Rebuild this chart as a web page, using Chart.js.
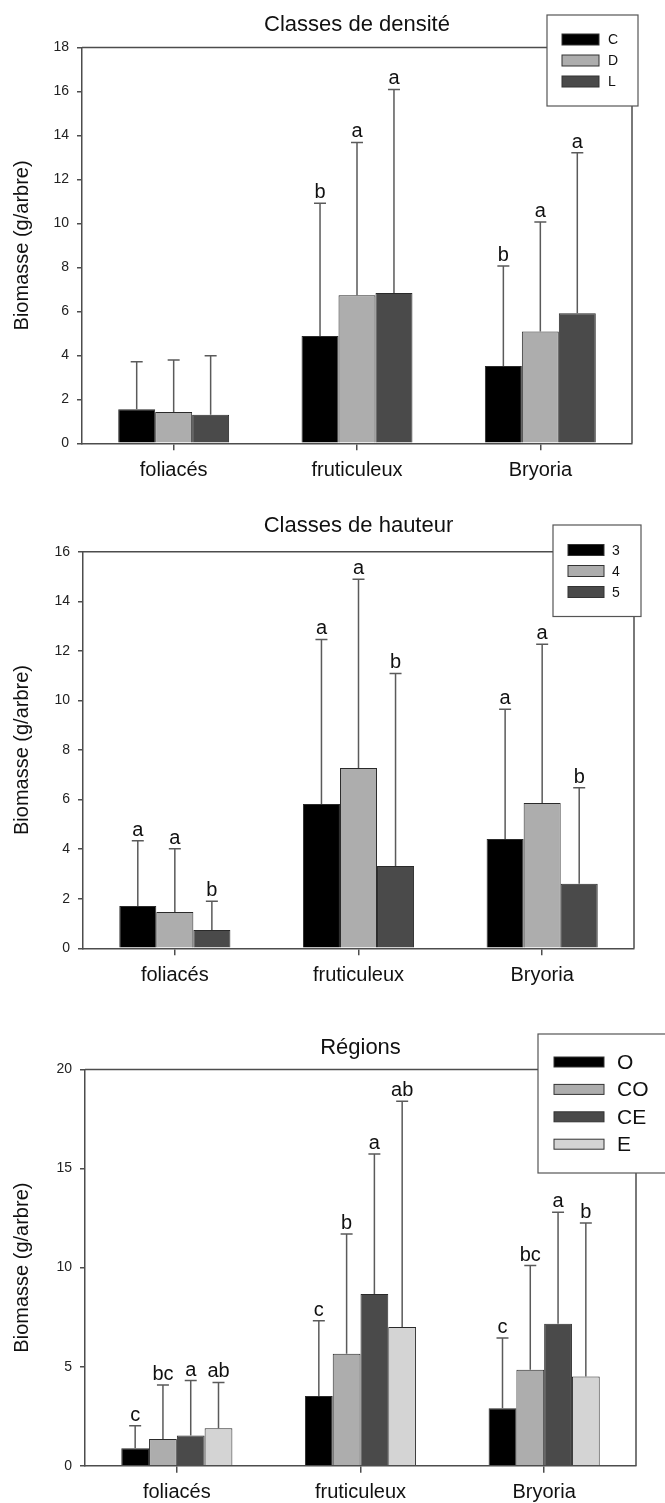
<!DOCTYPE html>
<html><head><meta charset="utf-8">
<script src="https://cdn.jsdelivr.net/npm/chart.js@4.4.0/dist/chart.umd.min.js"></script>
<style>
html,body{margin:0;padding:0;background:#fff;}
#wrap{position:relative;width:665px;height:1503px;background:#fff;}
canvas{position:absolute;left:0;}
</style></head><body>
<div id="wrap">
<canvas id="c1" width="665" height="500" style="top:0px"></canvas>
<canvas id="c2" width="665" height="500" style="top:500px"></canvas>
<canvas id="c3" width="665" height="503" style="top:1000px"></canvas>
</div>
<script>
// ---------- DATA ----------
const categories = ['foliacés', 'fruticuleux', 'Bryoria'];
const yAxisTitle = 'Biomasse (g/arbre)';

// Panel 1 : Classes de densité
const densTitle = 'Classes de densité';
const densSeries = ['C', 'D', 'L'];
const densC = [1.55, 4.88, 3.51];
const densD = [1.42, 6.73, 5.09];
const densL = [1.30, 6.83, 5.92];
const densCErr = [2.16, 6.04, 4.55];
const densDErr = [2.37, 6.95, 4.97];
const densLErr = [2.68, 9.26, 7.29];
const densCLetters = ['', 'b', 'b'];
const densDLetters = ['', 'a', 'a'];
const densLLetters = ['', 'a', 'a'];
const densTicks = [0, 2, 4, 6, 8, 10, 12, 14, 16, 18];

// Panel 2 : Classes de hauteur
const hautTitle = 'Classes de hauteur';
const hautSeries = ['3', '4', '5'];
const haut3 = [1.71, 5.82, 4.41];
const haut4 = [1.46, 7.27, 5.86];
const haut5 = [0.74, 3.32, 2.60];
const haut3Err = [2.63, 6.64, 5.23];
const haut4Err = [2.56, 7.62, 6.41];
const haut5Err = [1.16, 7.77, 3.88];
const haut3Letters = ['a', 'a', 'a'];
const haut4Letters = ['a', 'a', 'a'];
const haut5Letters = ['b', 'b', 'b'];
const hautTicks = [0, 2, 4, 6, 8, 10, 12, 14, 16];

// Panel 3 : Régions
const regTitle = 'Régions';
const regSeries = ['O', 'CO', 'CE', 'E'];
const regO = [0.88, 3.52, 2.90];
const regCO = [1.35, 5.65, 4.84];
const regCE = [1.52, 8.67, 7.16];
const regE = [1.89, 7.00, 4.50];
const regOErr = [1.14, 3.80, 3.54];
const regCOErr = [2.73, 6.05, 5.26];
const regCEErr = [2.78, 7.07, 5.63];
const regEErr = [2.31, 11.40, 7.75];
const regOLetters = ['c', 'c', 'c'];
const regCOLetters = ['bc', 'b', 'bc'];
const regCELetters = ['a', 'a', 'a'];
const regELetters = ['ab', 'ab', 'b'];
const regTicks = [0, 5, 10, 15, 20];

// ---------- STYLE ----------
const FONT = "'Liberation Sans', Arial, Helvetica, sans-serif";
const BLACK = '#000000', LIGHT = '#adadad', DARK = '#4a4a4a', PALE = '#d4d4d4';
const AXIS = '#4d4d4d';
Chart.defaults.font.family = FONT;
Chart.defaults.color = '#111';

const errorBarPlugin = {
  id: 'errbars',
  afterDatasetsDraw(chart) {
    const ctx = chart.ctx, ys = chart.scales.y;
    chart.data.datasets.forEach((ds, i) => {
      const meta = chart.getDatasetMeta(i);
      meta.data.forEach((el, j) => {
        const yTop = ys.getPixelForValue(ds.data[j] + ds.errors[j]);
        ctx.save();
        ctx.strokeStyle = '#5a5a5a';
        ctx.lineWidth = 1.5;
        ctx.beginPath();
        ctx.moveTo(el.x, el.y);
        ctx.lineTo(el.x, yTop);
        ctx.moveTo(el.x - 6, yTop);
        ctx.lineTo(el.x + 6, yTop);
        ctx.stroke();
        const L = ds.letters[j];
        if (L) {
          ctx.fillStyle = '#111';
          ctx.font = '20px ' + FONT;
          ctx.textAlign = 'center';
          ctx.textBaseline = 'alphabetic';
          ctx.fillText(L, el.x, yTop - 5);
        }
        ctx.restore();
      });
    });
  }
};

const framePlugin = {
  id: 'frameLegend',
  afterDraw(chart, args, o) {
    const ctx = chart.ctx, a = chart.chartArea;
    ctx.save();
    ctx.strokeStyle = AXIS;
    ctx.lineWidth = 1.5;
    ctx.beginPath();
    ctx.moveTo(a.left, a.top);
    ctx.lineTo(a.right, a.top);
    ctx.lineTo(a.right, a.bottom);
    ctx.stroke();
    // legend box
    ctx.fillStyle = '#fff';
    ctx.fillRect(o.bx, o.by, o.bw, o.bh);
    ctx.strokeStyle = '#555';
    ctx.lineWidth = 1.2;
    ctx.strokeRect(o.bx, o.by, o.bw, o.bh);
    chart.data.datasets.forEach((ds, i) => {
      const cy = o.row0 + i * o.rowStep;
      ctx.fillStyle = ds.backgroundColor;
      ctx.fillRect(o.swX, cy - o.swH / 2, o.swW, o.swH);
      ctx.strokeStyle = '#333';
      ctx.lineWidth = 1;
      ctx.strokeRect(o.swX, cy - o.swH / 2, o.swW, o.swH);
      ctx.fillStyle = '#111';
      ctx.font = o.fs + 'px ' + FONT;
      ctx.textAlign = 'left';
      ctx.textBaseline = 'middle';
      ctx.fillText(ds.label, o.labX, cy + 1);
    });
    ctx.restore();
  }
};

function makeDs(label, data, errors, letters, color) {
  return {
    label, data, errors, letters,
    backgroundColor: color,
    borderColor: '#2a2a2a',
    borderWidth: 1,
    barPercentage: 1.0,
    categoryPercentage: 0.605
  };
}

function makePanel(id, cfg) {
  const H = cfg.H;
  return new Chart(document.getElementById(id), {
    type: 'bar',
    data: { labels: categories, datasets: cfg.datasets },
    options: {
      responsive: false,
      animation: false,
      devicePixelRatio: 1,
      layout: { padding: { left: 0, right: 665 - cfg.right, top: 0, bottom: 0 } },
      plugins: {
        legend: { display: false },
        tooltip: { enabled: false },
        title: {
          display: true, text: cfg.title, fullSize: false,
          color: '#111',
          font: { size: 22, weight: 'normal', family: FONT },
          padding: { top: cfg.titleMid - 13.2, bottom: cfg.top - (cfg.titleMid - 13.2) - 26.4 }
        },
        frameLegend: cfg.legend
      },
      scales: {
        x: {
          grid: { display: true, drawOnChartArea: false, drawTicks: true, tickLength: 7, color: AXIS, offset: false, lineWidth: 1.5 },
          border: { display: true, color: AXIS, width: 1.5 },
          ticks: { font: { size: 20, family: FONT }, color: '#111', padding: 8, maxRotation: 0 },
          afterFit: s => { s.height = H - cfg.bottom; }
        },
        y: {
          min: 0, max: cfg.ticks[cfg.ticks.length - 1],
          afterBuildTicks: s => { s.ticks = cfg.ticks.map(v => ({ value: v })); },
          grid: { display: true, drawOnChartArea: false, drawTicks: true, tickLength: 5, color: AXIS, lineWidth: 1.5 },
          border: { display: true, color: AXIS, width: 1.5 },
          ticks: { font: { size: 14, family: FONT }, color: '#222', padding: 8 },
          title: { display: true, text: yAxisTitle, color: '#111', font: { size: 20, family: FONT }, padding: { top: 10, bottom: 0 } },
          afterFit: s => { s.width = cfg.left; }
        }
      }
    },
    plugins: [errorBarPlugin, framePlugin]
  });
}

makePanel('c1', {
  H: 500, left: 82, right: 632, top: 47.5, bottom: 443.3, titleMid: 25,
  title: densTitle, ticks: densTicks,
  datasets: [
    makeDs(densSeries[0], densC, densCErr, densCLetters, BLACK),
    makeDs(densSeries[1], densD, densDErr, densDLetters, LIGHT),
    makeDs(densSeries[2], densL, densLErr, densLLetters, DARK)
  ],
  legend: { bx: 547, by: 15, bw: 91, bh: 91, swX: 562, swW: 37, swH: 11, row0: 39.5, rowStep: 21, labX: 608, fs: 14 }
});

makePanel('c2', {
  H: 500, left: 83, right: 634, top: 51.7, bottom: 448.3, titleMid: 25.5,
  title: hautTitle, ticks: hautTicks,
  datasets: [
    makeDs(hautSeries[0], haut3, haut3Err, haut3Letters, BLACK),
    makeDs(hautSeries[1], haut4, haut4Err, haut4Letters, LIGHT),
    makeDs(hautSeries[2], haut5, haut5Err, haut5Letters, DARK)
  ],
  legend: { bx: 553, by: 25, bw: 88, bh: 91.5, swX: 568, swW: 36, swH: 11, row0: 50, rowStep: 21, labX: 612, fs: 14 }
});

makePanel('c3', {
  H: 503, left: 85, right: 636, top: 69.5, bottom: 465.7, titleMid: 48,
  title: regTitle, ticks: regTicks,
  datasets: [
    makeDs(regSeries[0], regO, regOErr, regOLetters, BLACK),
    makeDs(regSeries[1], regCO, regCOErr, regCOLetters, LIGHT),
    makeDs(regSeries[2], regCE, regCEErr, regCELetters, DARK),
    makeDs(regSeries[3], regE, regEErr, regELetters, PALE)
  ],
  legend: { bx: 538, by: 34, bw: 160, bh: 139, swX: 554, swW: 50, swH: 10, row0: 62, rowStep: 27.4, labX: 617, fs: 21 }
});
</script>
</body></html>
